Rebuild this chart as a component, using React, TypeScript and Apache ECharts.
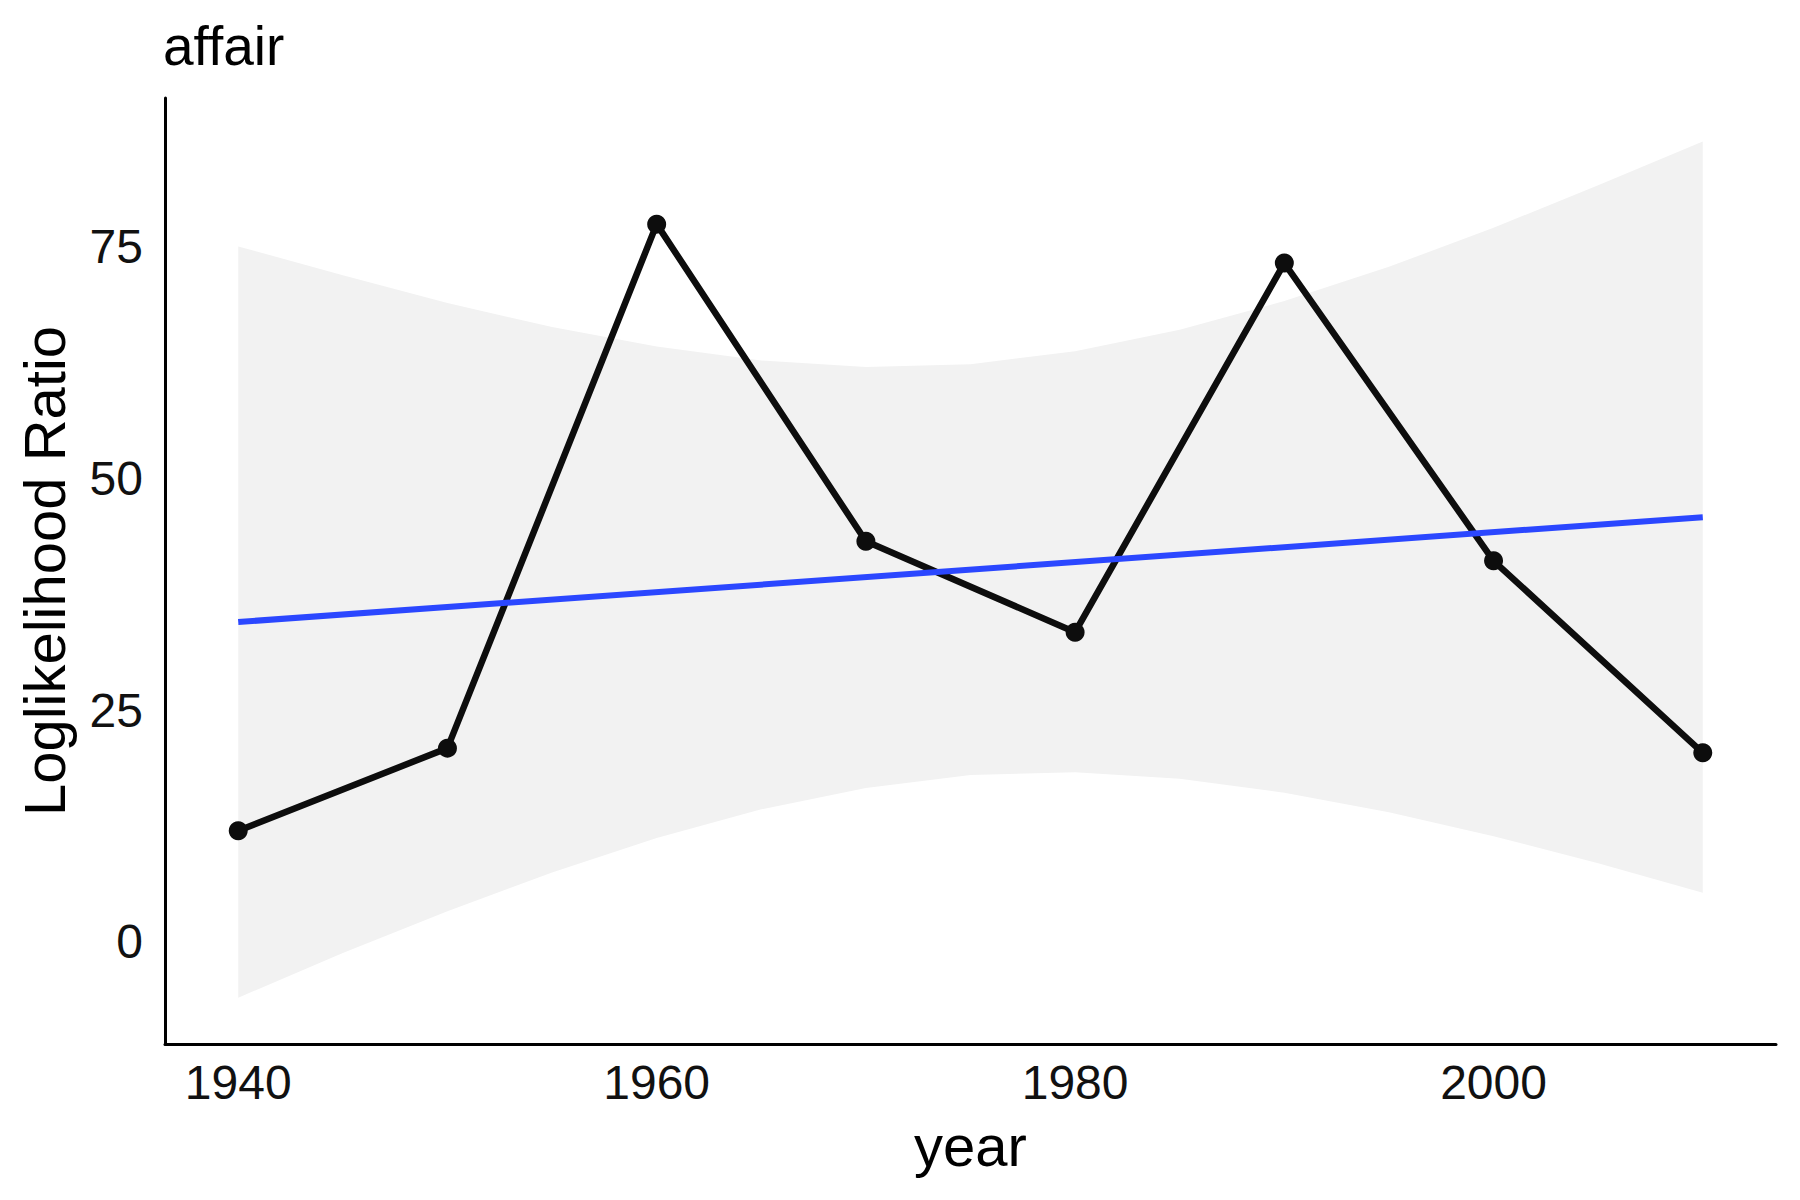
import React, { useEffect, useRef } from "react";
import * as echarts from "echarts";

const years = [1940, 1950, 1960, 1970, 1980, 1990, 2000, 2010];
const ratios = [12.0, 20.9, 77.4, 43.2, 33.4, 73.2, 41.1, 20.4];

const fitYears = [1940, 2010];
const fitValues = [34.5, 45.8];

const bandYears = [1940, 1945, 1950, 1955, 1960, 1965, 1970, 1975, 1980, 1985, 1990, 1995, 2000, 2005, 2010];
const bandLower = [-6.0, -1.2, 3.3, 7.5, 11.2, 14.3, 16.6, 18.0, 18.3, 17.6, 16.1, 14.0, 11.4, 8.5, 5.3];
const bandUpper = [75.0, 71.9, 68.9, 66.3, 64.2, 62.7, 62.0, 62.3, 63.7, 66.0, 69.1, 72.8, 77.0, 81.6, 86.3];

const xTicks = [1940, 1960, 1980, 2000];
const yTicks = [0, 25, 50, 75];

const FONT = "'Liberation Sans', Arial, Helvetica, sans-serif";

export default function App() {
  const ref = useRef<HTMLDivElement>(null);
  useEffect(() => {
    if (!ref.current) return;
    const chart = echarts.init(ref.current, undefined, { renderer: "svg" });
    chart.setOption({
      animation: false,
      backgroundColor: "#ffffff",
      title: {
        text: "affair",
        left: 158,
        top: 13,
        textStyle: { fontFamily: FONT, fontSize: 55, fontWeight: "normal", color: "#000" },
      },
      grid: { left: 165, right: 24, top: 98, bottom: 156 },
      xAxis: {
        type: "value",
        min: 1936.5,
        max: 2013.5,
        name: "year",
        nameLocation: "middle",
        nameGap: 72,
        nameTextStyle: { fontFamily: FONT, fontSize: 58, color: "#000" },
        axisLine: { show: true, onZero: false, lineStyle: { color: "#000", width: 3 } },
        axisTick: { show: false },
        splitLine: { show: false },
        axisLabel: {
          customValues: xTicks,
          margin: 14,
          fontFamily: FONT,
          fontSize: 48,
          color: "#111",
          formatter: (v: number) => String(v),
        },
      },
      yAxis: {
        type: "value",
        min: -11,
        max: 91,
        name: "Loglikelihood Ratio",
        nameLocation: "middle",
        nameGap: 92,
        nameTextStyle: { fontFamily: FONT, fontSize: 58, color: "#000" },
        axisLine: { show: true, onZero: false, lineStyle: { color: "#000", width: 3 } },
        axisTick: { show: false },
        splitLine: { show: false },
        axisLabel: {
          customValues: yTicks,
          margin: 22,
          fontFamily: FONT,
          fontSize: 48,
          color: "#111",
        },
      },
      series: [
        {
          type: "custom",
          silent: true,
          z: 1,
          data: bandYears.map((x, i) => [x, bandLower[i], bandUpper[i]]),
          renderItem: (params: any, api: any) => {
            if (params.dataIndex !== 0) return null;
            const top = bandYears.map((x, i) => api.coord([x, bandUpper[i]]));
            const bottom = bandYears
              .map((x, i) => api.coord([x, bandLower[i]]))
              .reverse();
            return {
              type: "polygon",
              shape: { points: top.concat(bottom) },
              style: { fill: "#f2f2f2", stroke: "none" },
            };
          },
        },
        {
          type: "line",
          z: 2,
          data: years.map((x, i) => [x, ratios[i]]),
          symbol: "circle",
          symbolSize: 19,
          lineStyle: { color: "#0d0d0d", width: 6.5 },
          itemStyle: { color: "#0d0d0d" },
        },
        {
          type: "line",
          z: 3,
          data: fitYears.map((x, i) => [x, fitValues[i]]),
          symbol: "none",
          lineStyle: { color: "#2b47ff", width: 6 },
        },
      ],
    });
    return () => chart.dispose();
  }, []);
  return (
    <div
      ref={ref}
      style={{ position: "absolute", left: 0, top: 0, width: 1800, height: 1200 }}
    />
  );
}
